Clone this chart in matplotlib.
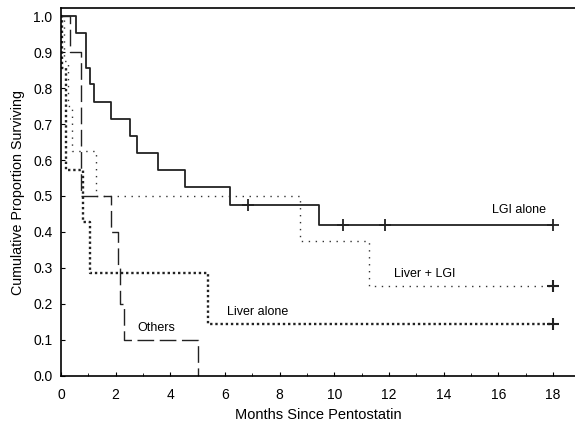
import matplotlib
matplotlib.use("Agg")
import matplotlib.pyplot as plt

# --------------------------------------
# Data
# --------------------------------------
lgi_t = [0, 0.54, 0.9, 1.05, 1.22, 1.83, 2.54, 2.78, 3.54, 4.52, 6.2, 9.43, 18]
lgi_s = [1.0, 0.952, 0.857, 0.810, 0.762, 0.714, 0.667, 0.619, 0.571, 0.524, 0.476, 0.420, 0.420]
lgi_cens_t = [6.84, 10.3, 11.84, 18]
lgi_cens_s = [0.476, 0.420, 0.420, 0.420]

liverlgi_t = [0, 0.12, 0.25, 0.4, 1.27, 8.73, 11.26, 18]
liverlgi_s = [1.0, 0.875, 0.75, 0.625, 0.5, 0.375, 0.25, 0.25]
liverlgi_cens_t = [18]
liverlgi_cens_s = [0.25]

liver_t = [0, 0.05, 0.2, 0.82, 1.06, 5.38, 18]
liver_s = [1.0, 0.857, 0.571, 0.429, 0.286, 0.143, 0.143]
liver_cens_t = [18]
liver_cens_s = [0.143]

others_t = [0, 0.33, 0.72, 1.83, 2.07, 2.17, 2.3, 5.03]
others_s = [1.0, 0.9, 0.5, 0.4, 0.3, 0.2, 0.1, 0.0]

labels = ["LGI alone", "Liver + LGI", "Liver alone", "Others"]
label_x = [16.75, 13.3, 7.2, 3.5]
label_y = [0.46, 0.283, 0.178, 0.133]

# --------------------------------------
# Plot
# --------------------------------------
plt.rcParams["font.family"] = ["Liberation Sans", "DejaVu Sans"]

fig = plt.figure(figsize=(5.75, 4.32), dpi=100)
ax = fig.add_axes([0.106, 0.13, 0.894, 0.851])

ax.step(lgi_t, lgi_s, where="post", color="#222222", lw=1.3)
ax.plot(lgi_cens_t, lgi_cens_s, "+", color="#222222", ms=8, mew=1.3)

ax.step(liverlgi_t, liverlgi_s, where="post", color="#333333", lw=1.0,
        linestyle=(0, (1, 4)))
ax.plot(liverlgi_cens_t, liverlgi_cens_s, "+", color="#222222", ms=8, mew=1.5)

ax.step(liver_t, liver_s, where="post", color="#222222", lw=1.7,
        linestyle=(0, (1, 1.2)))
ax.plot(liver_cens_t, liver_cens_s, "+", color="#222222", ms=8, mew=1.5)

ax.step(others_t, others_s, where="post", color="#222222", lw=1.0,
        linestyle=(0, (12, 4)))

for lab, x, y in zip(labels, label_x, label_y):
    ax.text(x, y, lab, ha="center", va="center", fontsize=9)

ax.set_xlim(0, 18.8)
ax.set_ylim(0, 1.022)
ax.set_xticks(range(0, 19, 2))
ax.set_xticks(range(1, 19, 2), minor=True)
ax.set_yticks([i / 10 for i in range(11)])
ax.set_yticklabels([f"{i / 10:.1f}" for i in range(11)])
ax.tick_params(direction="in", labelsize=10, length=3)
ax.tick_params(axis="x", pad=9)
ax.tick_params(axis="y", pad=6)
ax.tick_params(which="minor", direction="in", length=2)
ax.spines["right"].set_visible(False)
for s in ("left", "bottom", "top"):
    ax.spines[s].set_linewidth(1.2)

ax.set_xlabel("Months Since Pentostatin", fontsize=10.5, labelpad=4)
ax.set_ylabel("Cumulative Proportion Surviving", fontsize=10.3, labelpad=6)

fig.savefig("out.png", dpi=100)
